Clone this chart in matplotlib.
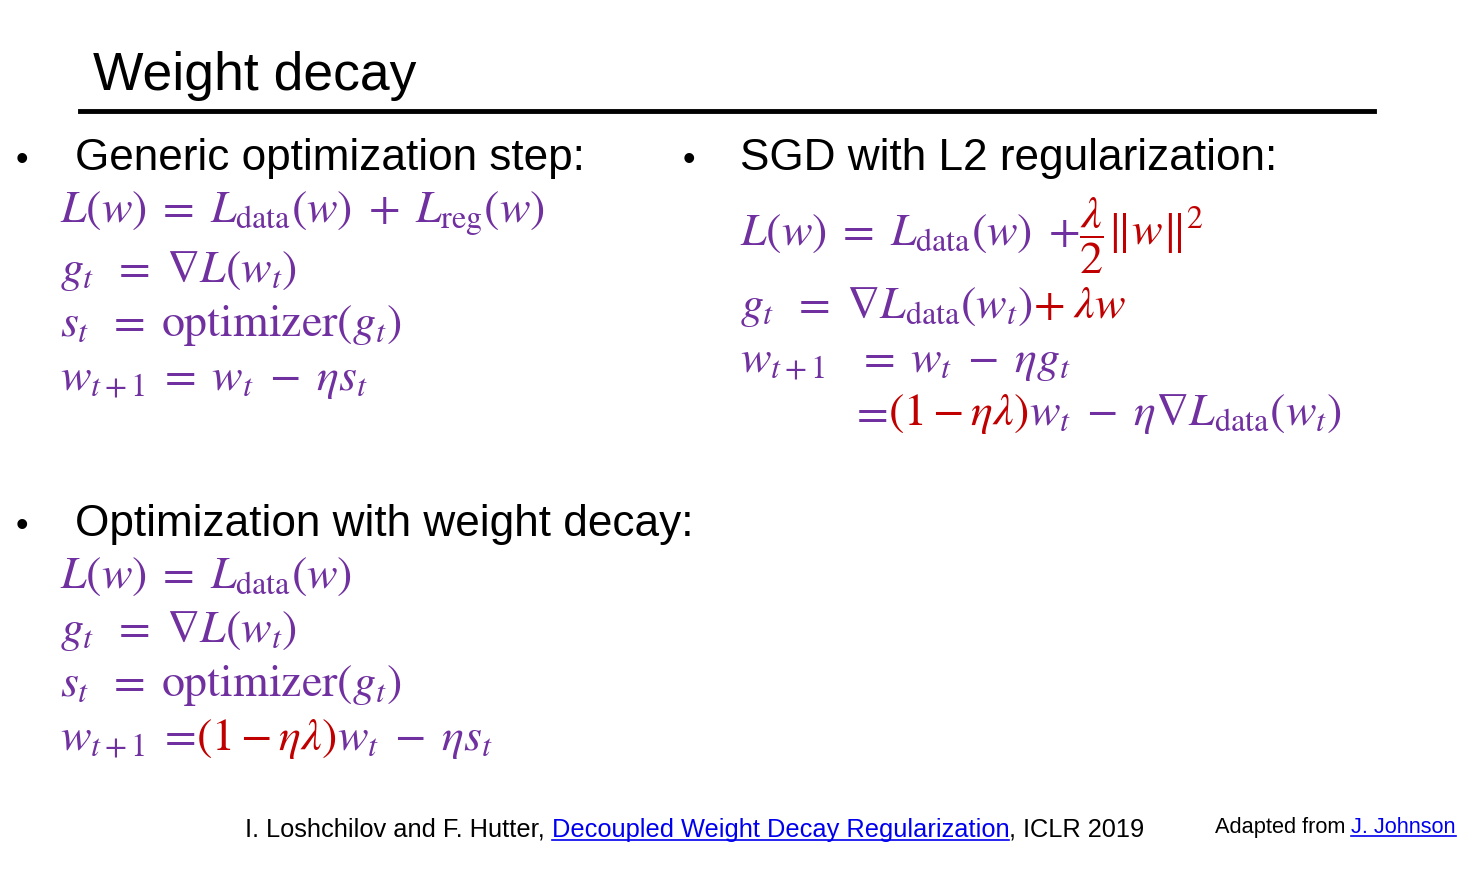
import matplotlib.pyplot as plt
from matplotlib.lines import Line2D

plt.rcParams['mathtext.fontset'] = 'stix'
plt.rcParams['font.family'] = ['Liberation Sans', 'DejaVu Sans']

PURPLE = '#7030A0'
RED = '#C00000'
BLUE = '#0000EE'

title = 'Weight decay'
headings = ['Generic optimization step:', 'SGD with L2 regularization:', 'Optimization with weight decay:']

# each line: (x px, baseline y px, [(text, colour), ...])
left_eq = [
    (60, 222, [(r'$L(w)\;=\;L_{\mathrm{data}}(w)\;+\;L_{\mathrm{reg}}(w)$', PURPLE)]),
    (60, 282, [(r'$g_t\;\;=\;\nabla L(w_t)$', PURPLE)]),
    (60, 336, [(r'$s_t\;\;=\;\mathrm{optimizer}(g_t)$', PURPLE)]),
    (60, 390, [(r'$w_{t+1}\;=\;w_t\;-\;\eta s_t$', PURPLE)]),
]
right_eq = [
    (740, 245, [(r'$L(w)\;=\;L_{\mathrm{data}}(w)\;+\;$', PURPLE), (r'$\dfrac{\lambda}{2}\Vert w\Vert^2$', RED)]),
    (740, 318, [(r'$g_t\;\;=\;\nabla L_{\mathrm{data}}(w_t)\;$', PURPLE), (r'$+\;\lambda w$', RED)]),
    (740, 372, [(r'$w_{t+1}\;\;\;=\;w_t\;-\;\eta g_t$', PURPLE)]),
    (850, 425, [(r'$=\;$', PURPLE), (r'$(1-\eta\lambda)$', RED), (r'$w_t\;-\;\eta\nabla L_{\mathrm{data}}(w_t)$', PURPLE)]),
]
bottom_eq = [
    (60, 588, [(r'$L(w)\;=\;L_{\mathrm{data}}(w)$', PURPLE)]),
    (60, 642, [(r'$g_t\;\;=\;\nabla L(w_t)$', PURPLE)]),
    (60, 696, [(r'$s_t\;\;=\;\mathrm{optimizer}(g_t)$', PURPLE)]),
    (60, 750, [(r'$w_{t+1}\;=\;$', PURPLE), (r'$(1-\eta\lambda)$', RED), (r'$w_t\;-\;\eta s_t$', PURPLE)]),
]

W, H = 1480, 881
fig = plt.figure(figsize=(W / 100, H / 100), dpi=100)
fig.patch.set_facecolor('white')
renderer = fig.canvas.get_renderer()


def px(x, y):
    return x / W, 1 - y / H


def segs(x, y, parts, size=33):
    for s, c in parts:
        t = fig.text(*px(x, y), s, color=c, fontsize=size, va='baseline', ha='left')
        bb = t.get_window_extent(renderer)
        x += bb.width


def link(x, y, parts, size):
    for s, c in parts:
        t = fig.text(*px(x, y), s, color=c, fontsize=size, va='baseline', ha='left')
        bb = t.get_window_extent(renderer)
        if c == BLUE:
            fig.add_artist(Line2D([x / W, (x + bb.width) / W], [1 - (y + 3) / H] * 2, color=BLUE, lw=1.2))
        x += bb.width


fig.text(*px(93, 90), title, fontsize=38.5, va='baseline')
fig.add_artist(Line2D([80 / W, 1374 / W], [1 - 111 / H] * 2, color='black', lw=3.5))

for (bx, tx, y), h in zip([(16, 75, 170), (683, 740, 170), (16, 75, 536)], headings):
    fig.text(*px(bx, y), '•', fontsize=26, va='baseline')
    fig.text(*px(tx, y), h, fontsize=31.8, va='baseline')

for x, y, parts in left_eq + right_eq + bottom_eq:
    segs(x, y, parts)

link(245, 837, [('I. Loshchilov and F. Hutter, ', 'black'), ('Decoupled Weight Decay Regularization', BLUE),
                (', ICLR 2019', 'black')], 18.3)
link(1215, 833, [('Adapted from ', 'black'), ('J. Johnson', BLUE)], 15.7)

fig.savefig('out.png', dpi=100)
